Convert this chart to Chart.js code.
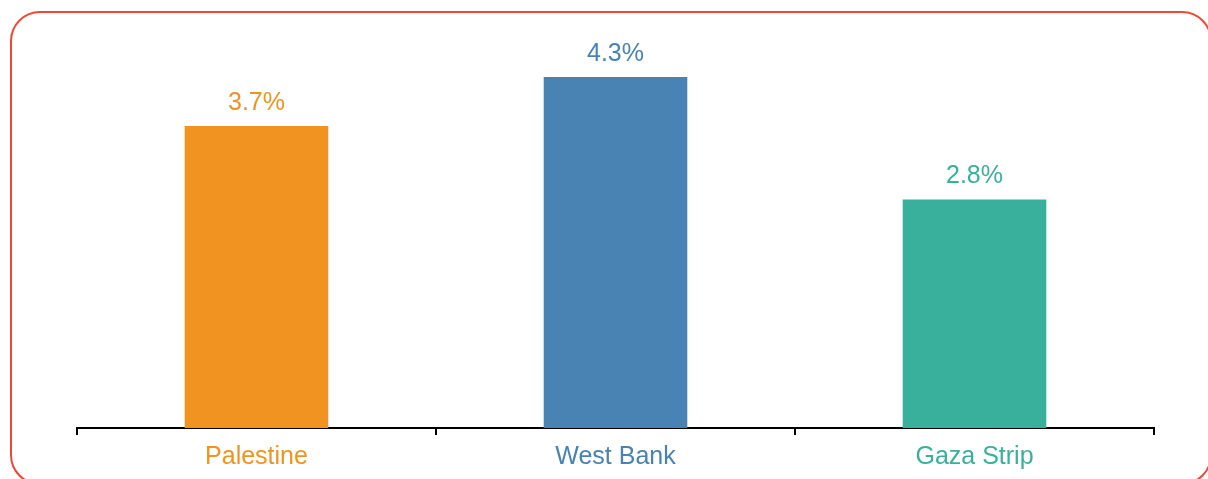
<!DOCTYPE html>
<html>
<head>
<meta charset="utf-8">
<script src="https://cdn.jsdelivr.net/npm/chart.js@4/dist/chart.umd.min.js"></script>
<style>
  html, body { margin: 0; padding: 0; background: #fff; overflow: hidden; }
  #wrap { position: relative; width: 1208px; height: 479px; overflow: hidden; }
  #frame { position: absolute; left: 10px; top: 11px; width: 1202px; height: 474px;
           border: 2.5px solid #f04834; border-radius: 30px; box-sizing: border-box; }
  #c { position: absolute; left: 0; top: 0; }
</style>
</head>
<body>
<div id="wrap">
  <div id="frame"></div>
  <canvas id="c" width="1208" height="479"></canvas>
</div>
<script>
const categories = ["Palestine", "West Bank", "Gaza Strip"];
const values = [3.7, 4.3, 2.8];
const valueLabels = ["3.7%", "4.3%", "2.8%"];
const colors = ["#f09320", "#4883b4", "#39b09b"];

const FONT = "Arial, 'Liberation Sans', Helvetica, sans-serif";

const valueLabelPlugin = {
  id: 'valueLabels',
  afterDatasetsDraw(chart) {
    const ctx = chart.ctx;
    const meta = chart.getDatasetMeta(0);
    ctx.save();
    ctx.font = "25px " + FONT;
    ctx.textAlign = 'center';
    ctx.textBaseline = 'alphabetic';
    meta.data.forEach((bar, i) => {
      ctx.fillStyle = colors[i];
      ctx.fillText(valueLabels[i], bar.x, bar.y - 16.5);
    });
    ctx.restore();
  }
};

new Chart(document.getElementById('c'), {
  type: 'bar',
  data: {
    labels: categories,
    datasets: [{
      data: values,
      backgroundColor: colors,
      borderWidth: 0,
      barPercentage: 0.4,
      categoryPercentage: 1.0
    }]
  },
  options: {
    responsive: false,
    animation: false,
    events: [],
    layout: { padding: { left: 77, right: 54, top: 20, bottom: 0 } },
    plugins: { legend: { display: false }, tooltip: { enabled: false } },
    scales: {
      x: {
        grid: { display: true, drawOnChartArea: false, drawTicks: true, tickLength: 7, color: '#000', lineWidth: 2, offset: true },
        border: { display: true, color: '#000', width: 2 },
        ticks: {
          padding: 7,
          font: { size: 25, family: FONT },
          color: (c) => colors[c.index]
        }
      },
      y: { display: false, min: 0, max: 5 }
    }
  },
  plugins: [valueLabelPlugin]
});
</script>
</body>
</html>
